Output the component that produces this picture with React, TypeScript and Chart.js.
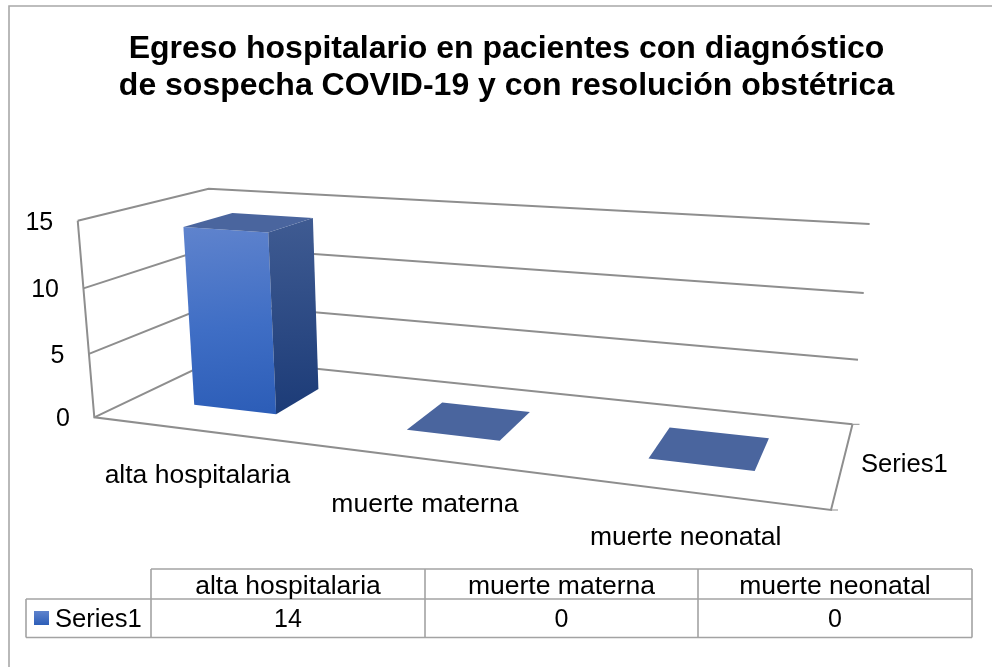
import React, { useEffect, useRef } from "react";
import { Chart, registerables } from "chart.js";

Chart.register(...registerables);

const titleLines = [
  "Egreso hospitalario en pacientes con diagnóstico",
  "de sospecha COVID-19 y con resolución obstétrica",
];
const categories = ["alta hospitalaria", "muerte materna", "muerte neonatal"];
const seriesName = "Series1";
const seriesValues = [14, 0, 0];
const yMin = 0;
const yMax = 15;
const yStep = 5;

const FONT = "'Liberation Sans', Arial, sans-serif";
const GRID = "#8e8e8e";
const TABLE_LINE = "#a3a3a3";

type P = [number, number];
// Perspective frame of the 3-D box: floor quad (front-left, front-right, back-right, back-left),
// vanishing point of the vertical edges and the strength of the vertical foreshortening.
const floorQuad: P[] = [[94.3, 417.3], [831, 510], [852.5, 424.3], [217.5, 358.5]];
const vanishXLeft = 423;
const vanishXRight = 520;
const vanishY = 4316;
const verticalK = -0.048;
const depthFront = 0.3;
const depthBack = 0.7;

function homography(q: P[]) {
  const [[x0, y0], [x1, y1], [x2, y2], [x3, y3]] = q;
  const dx1 = x1 - x2, dx2 = x3 - x2, sx = x0 - x1 + x2 - x3;
  const dy1 = y1 - y2, dy2 = y3 - y2, sy = y0 - y1 + y2 - y3;
  const den = dx1 * dy2 - dx2 * dy1;
  const g = (sx * dy2 - dx2 * sy) / den;
  const h = (dx1 * sy - sx * dy1) / den;
  const a = x1 - x0 + g * x1, b = x3 - x0 + h * x3;
  const d = y1 - y0 + g * y1, e = y3 - y0 + h * y3;
  return (u: number, v: number): [number, number, number] => {
    const w = g * u + h * v + 1;
    return [(a * u + b * v + x0) / w, (d * u + e * v + y0) / w, w];
  };
}
const floorH = homography(floorQuad);
function project(u: number, v: number, d: number): P {
  const [fx, fy, w] = floorH(u, d);
  const t = (v * verticalK) / (w + v * verticalK);
  const vx = vanishXLeft + (vanishXRight - vanishXLeft) * u;
  return [fx + (vx - fx) * t, fy + (vanishY - fy) * t];
}

function poly(ctx: CanvasRenderingContext2D, pts: P[], fill: string | CanvasGradient) {
  ctx.beginPath();
  pts.forEach((p, i) => (i ? ctx.lineTo(p[0], p[1]) : ctx.moveTo(p[0], p[1])));
  ctx.closePath();
  ctx.fillStyle = fill;
  ctx.fill();
}
function path(ctx: CanvasRenderingContext2D, pts: P[], color = GRID, width = 2) {
  ctx.beginPath();
  pts.forEach((p, i) => (i ? ctx.lineTo(p[0], p[1]) : ctx.moveTo(p[0], p[1])));
  ctx.strokeStyle = color;
  ctx.lineWidth = width;
  ctx.stroke();
}
function text(ctx: CanvasRenderingContext2D, s: string, x: number, y: number, size: number, align: CanvasTextAlign = "center") {
  ctx.font = `${size}px ${FONT}`;
  ctx.fillStyle = "#000";
  ctx.textAlign = align;
  ctx.textBaseline = "middle";
  ctx.fillText(s, x, y);
}

const scene3d = {
  id: "scene3d",
  afterDatasetsDraw(chart: any) {
    const ctx: CanvasRenderingContext2D = chart.ctx;
    const { chartArea: ca, scales } = chart;
    const yS = scales.y, xS = scales.x;
    ctx.save();

    // outer frame (top and left edges only are inside the picture)
    path(ctx, [[9, 667], [9, 6], [992, 6]], "#a8a8a8", 1.6);

    // value gridlines on side wall + back wall, floor edges
    yS.ticks.forEach((t: any) => {
      const v = (yS.bottom - yS.getPixelForValue(t.value)) / (yS.bottom - yS.top);
      path(ctx, [project(0, v, 0), project(0, v, 1), project(1, v, 1)]);
    });
    path(ctx, [project(0, 1, 0), project(0, 0, 0), project(1, 0, 0), project(1, 0, 1)]);
    const fr = project(1, 0, 0), br = project(1, 0, 1);
    path(ctx, [fr, [fr[0] + 7, fr[1]]], GRID, 1);
    path(ctx, [br, [br[0] + 7, br[1]]], GRID, 1);

    // bars
    const meta = chart.getDatasetMeta(0);
    meta.data.forEach((bar: any) => {
      const u0 = (bar.x - bar.width / 2 - ca.left) / ca.width;
      const u1 = (bar.x + bar.width / 2 - ca.left) / ca.width;
      const v = (yS.bottom - bar.y) / (yS.bottom - yS.top);
      const a = project(u0, 0, depthFront), b = project(u1, 0, depthFront), c = project(u1, 0, depthBack);
      const e = project(u0, v, depthFront), f = project(u1, v, depthFront), g = project(u1, v, depthBack), h = project(u0, v, depthBack);
      if (v > 0) {
        const front = ctx.createLinearGradient(e[0] + 30, e[1] - 3, a[0] + 40, a[1] + 8);
        front.addColorStop(0, "#5f83cd");
        front.addColorStop(0.55, "#3f6ec5");
        front.addColorStop(1, "#2d5eb8");
        poly(ctx, [e, f, b, a], front);
        const side = ctx.createLinearGradient(g[0], g[1], c[0], c[1] + 20);
        side.addColorStop(0, "#3f5b92");
        side.addColorStop(1, "#1d3c78");
        poly(ctx, [f, g, c, b], side);
      }
      poly(ctx, [e, f, g, h], "#4a659e");
    });

    // value axis labels
    yS.ticks.forEach((t: any) => {
      const v = (yS.bottom - yS.getPixelForValue(t.value)) / (yS.bottom - yS.top);
      const p = project(0, v, 0);
      text(ctx, t.label, p[0] - 24.5, p[1] + 2, 25, "right");
    });

    // category labels on the floor's front edge
    xS.ticks.forEach((t: any, i: number) => {
      const u = (xS.getPixelForTick(i) - ca.left) / ca.width;
      const p = project(u, 0, 0);
      text(ctx, t.label, p[0], p[1] + 45.5, 26.5);
    });
    text(ctx, seriesName, 861, 465, 25.6, "left");

    // data table
    const colX = [151, 425, 698, 972];
    const rowY = [569, 599, 637.5];
    const L = 26;
    path(ctx, [[colX[0], rowY[0]], [colX[3], rowY[0]]], TABLE_LINE, 1.6);
    path(ctx, [[L, rowY[1]], [colX[3], rowY[1]]], TABLE_LINE, 1.6);
    path(ctx, [[L, rowY[2]], [colX[3], rowY[2]]], TABLE_LINE, 1.6);
    path(ctx, [[L, rowY[1]], [L, rowY[2]]], TABLE_LINE, 1.6);
    colX.forEach((x) => path(ctx, [[x, rowY[0]], [x, rowY[2]]], TABLE_LINE, 1.6));
    categories.forEach((c, i) => {
      const cx = (colX[i] + colX[i + 1]) / 2;
      text(ctx, c, cx, 587, 26.5);
      text(ctx, String(seriesValues[i]), cx, 620, 25);
    });
    const sw = ctx.createLinearGradient(0, 611, 0, 625);
    sw.addColorStop(0, "#5f83cd");
    sw.addColorStop(1, "#2d5eb8");
    ctx.fillStyle = sw;
    ctx.fillRect(34, 611, 15, 14);
    text(ctx, seriesName, 55, 619.5, 25.6, "left");
    ctx.restore();
  },
};

export default function App() {
  const ref = useRef<HTMLCanvasElement>(null);
  useEffect(() => {
    const chart = new Chart(ref.current!, {
      type: "bar",
      data: {
        labels: categories,
        datasets: [
          {
            label: seriesName,
            data: seriesValues,
            backgroundColor: "transparent",
            categoryPercentage: 0.4,
            barPercentage: 1,
          },
        ],
      },
      options: {
        responsive: false,
        animation: false,
        layout: { padding: { left: 21 } },
        scales: {
          x: { display: false },
          y: { display: false, min: yMin, max: yMax, ticks: { stepSize: yStep } },
        },
        plugins: {
          legend: { display: false },
          tooltip: { enabled: false },
          title: {
            display: true,
            text: titleLines,
            color: "#000",
            font: { family: FONT, size: 32, weight: "bold", lineHeight: 1.15 },
            padding: { top: 31, bottom: 10 },
          },
        },
      },
      plugins: [scene3d],
    });
    return () => chart.destroy();
  }, []);
  return (
    <div style={{ position: "fixed", left: 0, top: 0, width: 992, height: 667, background: "#fff" }}>
      <canvas ref={ref} width={992} height={667} style={{ display: "block" }} />
    </div>
  );
}
